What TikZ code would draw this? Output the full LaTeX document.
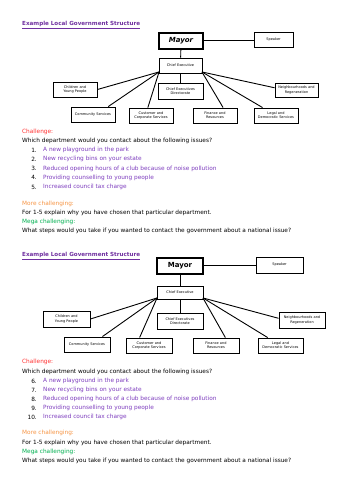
\documentclass[tikz,border=0pt]{standalone}
\usepackage{fontspec}
\setmainfont{DejaVu Sans}
\usetikzlibrary{calc}
\definecolor{ttlpurple}{HTML}{7030A0}
\definecolor{itempurple}{HTML}{7F3FBF}
\definecolor{chred}{HTML}{FF3333}
\definecolor{chorange}{HTML}{F79646}
\definecolor{chgreen}{HTML}{00B050}
\begin{document}
\begin{tikzpicture}[x=1pt,y=-1pt,
  orgbox/.style={draw,line width=0.9pt,fill=white,align=center,inner sep=0.5pt,
    font=\fontsize{3.5}{4.2}\selectfont},
  mayorbox/.style={draw,line width=1.1pt,fill=white,align=center,inner sep=0pt,
    font=\fontsize{7}{8}\selectfont\bfseries},
  link/.style={line width=0.9pt},
  txt/.style={anchor=west,inner sep=0pt,font=\fontsize{5.8}{7}\selectfont},
  ttl/.style={txt,text=ttlpurple,font=\fontsize{5.6}{7}\selectfont\bfseries},
  num/.style={anchor=east,inner sep=0pt,font=\fontsize{5.8}{7}\selectfont},
  item/.style={txt,text=itempurple}]
\useasboundingbox (0,0) rectangle (353,500);
\fill[white] (0,0) rectangle (353,500);

% ---------- top copy ----------
\node[ttl] (t1) at (22,25) {\underline{Example Local Government Structure}};
\node[mayorbox,minimum width=44pt,minimum height=16pt] (m1) at (181,41) {\itshape Mayor};
\node[orgbox,minimum width=39pt,minimum height=15pt] (s1) at (273.5,39.5) {Speaker};
\node[orgbox,minimum width=43pt,minimum height=15pt] (ce1) at (180.5,65.5) {Chief Executive};
\node[orgbox,minimum width=44pt,minimum height=15pt] (cy1) at (75,89.5) {Children and\\Young People};
\node[orgbox,minimum width=45pt,minimum height=16pt] (cd1) at (180.5,91) {Chief Executives\\Directorate};
\node[orgbox,minimum width=43pt,minimum height=14pt] (nr1) at (296.5,90) {Neighbourhoods and\\Regeneration};
\node[orgbox,minimum width=44pt,minimum height=15pt] (cs1) at (93,114.5) {Community Services};
\node[orgbox,minimum width=44pt,minimum height=15pt] (cc1) at (151,115.5) {Customer and\\Corporate Services};
\node[orgbox,minimum width=44pt,minimum height=15pt] (fr1) at (215,115.5) {Finance and\\Resources};
\node[orgbox,minimum width=44pt,minimum height=15pt] (ld1) at (276,115.5) {Legal and\\Democratic Services};
\draw[link] (m1.east |- 0,40) -- (s1.west |- 0,40);
\draw[link] (m1) -- (ce1);
\draw[link] (ce1) -- (cd1);
\coordinate (ce1l) at ($(ce1.south west)+(0.5,-1.5)$);
\coordinate (ce1r) at ($(ce1.south east)+(-0.5,-1.5)$);
\draw[link] (ce1l) -- (cy1.east);
\draw[link] (ce1l) -- ($(cs1.north west)!0.84!(cs1.north east)$);
\draw[link] (ce1l) -- ($(cc1.north west)!0.43!(cc1.north east)$);
\draw[link] (ce1r) -- ($(fr1.north west)!0.68!(fr1.north east)$);
\draw[link] (ce1r) -- ($(ld1.north west)!0.2!(ld1.north east)$);
\draw[link] (ce1r) -- ($(nr1.north west)!0.35!(nr1.south west)$);

\node[txt,text=chred] (c1) at (22,132) {Challenge:};
\node[txt] (q1) at (22,141) {Which department would you contact about the following issues?};
\node[num] (n1a) at (37,150) {1.};
\node[item] (i1a) at (43,150) {A new playground in the park};
\node[num] (n1b) at (37,159) {2.};
\node[item] (i1b) at (43,159) {New recycling bins on your estate};
\node[num] (n1c) at (37,168.5) {3.};
\node[item] (i1c) at (43,168.5) {Reduced opening hours of a club because of noise pollution};
\node[num] (n1d) at (37,177.5) {4.};
\node[item] (i1d) at (43,177.5) {Providing counselling to young people};
\node[num] (n1e) at (37,187) {5.};
\node[item] (i1e) at (43,187) {Increased council tax charge};
\node[txt,text=chorange] (mc1) at (22,204) {More challenging:};
\node[txt] (e1) at (22,213) {For 1-5 explain why you have chosen that particular department.};
\node[txt,text=chgreen] (mg1) at (22,222) {Mega challenging:};
\node[txt] (w1) at (22,231) {What steps would you take if you wanted to contact the government about a national issue?};

% ---------- bottom copy ----------
\node[ttl] (t2) at (22,256) {\underline{Example Local Government Structure}};
\node[mayorbox,minimum width=46pt,minimum height=16pt] (m2) at (180,266) {Mayor};
\node[orgbox,minimum width=47pt,minimum height=16pt] (s2) at (279.5,265) {Speaker};
\node[orgbox,minimum width=46pt,minimum height=13pt] (ce2) at (180,292.5) {Chief Executive};
\node[orgbox,minimum width=47pt,minimum height=16pt] (cy2) at (66.5,319) {Children and\\Young People};
\node[orgbox,minimum width=46pt,minimum height=16pt] (cd2) at (180,321) {Chief Executives\\Directorate};
\node[orgbox,minimum width=46pt,minimum height=16pt] (nr2) at (302,320) {Neighbourhoods and\\Regeneration};
\node[orgbox,minimum width=46pt,minimum height=15pt] (cs2) at (87,344.5) {Community Services};
\node[orgbox,minimum width=46pt,minimum height=15pt] (cc2) at (149,345.5) {Customer and\\Corporate Services};
\node[orgbox,minimum width=46pt,minimum height=15pt] (fr2) at (216,345.5) {Finance and\\Resources};
\node[orgbox,minimum width=45pt,minimum height=15pt] (ld2) at (280.5,345.5) {Legal and\\Democratic Services};
\draw[link] (m2.east |- 0,265) -- (s2.west |- 0,265);
\draw[link] (m2) -- (ce2);
\draw[link] (ce2) -- (cd2);
\coordinate (ce2l) at ($(ce2.south west)+(0.5,-1.5)$);
\coordinate (ce2r) at ($(ce2.south east)+(-0.5,-1.5)$);
\draw[link] (ce2l) -- (cy2.east);
\draw[link] (ce2l) -- ($(cs2.north west)!0.83!(cs2.north east)$);
\draw[link] (ce2l) -- ($(cc2.north west)!0.3!(cc2.north east)$);
\draw[link] (ce2r) -- ($(fr2.north west)!0.7!(fr2.north east)$);
\draw[link] (ce2r) -- ($(ld2.north west)!0.22!(ld2.north east)$);
\draw[link] (ce2r) -- ($(nr2.north west)!0.4!(nr2.south west)$);

\node[txt,text=chred] (c2) at (22,362) {Challenge:};
\node[txt] (q2) at (22,372) {Which department would you contact about the following issues?};
\node[num] (n2a) at (37,381) {6.};
\node[item] (i2a) at (43,381) {A new playground in the park};
\node[num] (n2b) at (37,390) {7.};
\node[item] (i2b) at (43,390) {New recycling bins on your estate};
\node[num] (n2c) at (37,399) {8.};
\node[item] (i2c) at (43,399) {Reduced opening hours of a club because of noise pollution};
\node[num] (n2d) at (37,408) {9.};
\node[item] (i2d) at (43,408) {Providing counselling to young people};
\node[num] (n2e) at (37,417) {10.};
\node[item] (i2e) at (43,417) {Increased council tax charge};
\node[txt,text=chorange] (mc2) at (22,433) {More challenging:};
\node[txt] (e2) at (22,443) {For 1-5 explain why you have chosen that particular department.};
\node[txt,text=chgreen] (mg2) at (22,452) {Mega challenging:};
\node[txt] (w2) at (22,460.5) {What steps would you take if you wanted to contact the government about a national issue?};
\end{tikzpicture}
\end{document}
